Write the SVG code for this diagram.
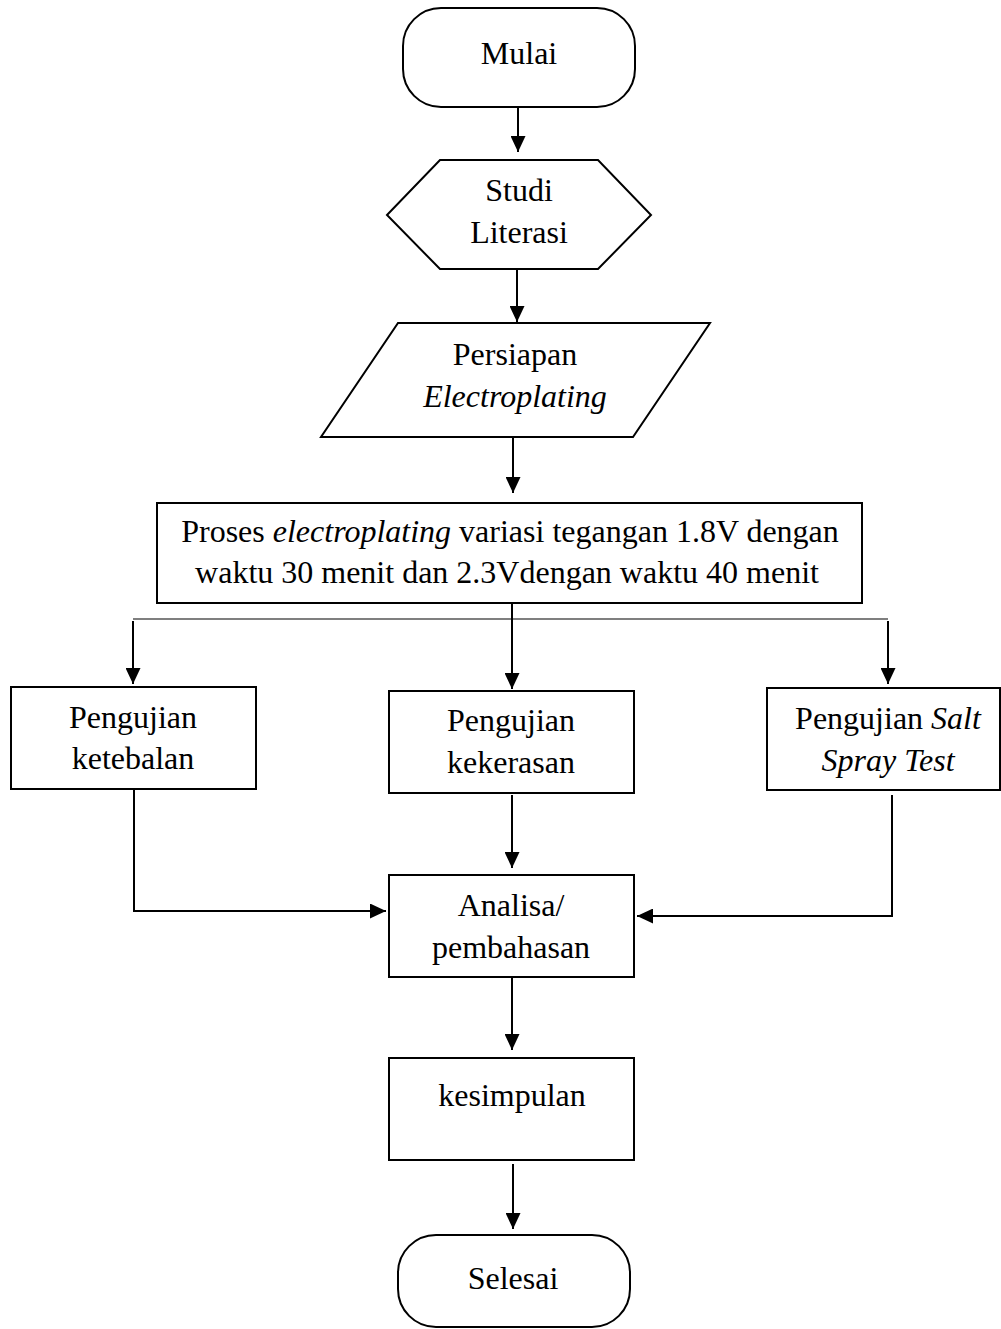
<svg xmlns="http://www.w3.org/2000/svg" width="1001" height="1329" viewBox="0 0 1001 1329">
<style>
.s{fill:#fff;stroke:#000;stroke-width:2}
.t{font-family:"Liberation Serif","Times New Roman",serif;font-size:32px;fill:#000;text-anchor:middle}
.i{font-style:italic}
.c{fill:none;stroke:#000;stroke-width:2}
.b{fill:none;stroke:#555;stroke-width:1.5}
</style>
<defs>
<marker id="ah" markerUnits="userSpaceOnUse" markerWidth="16" markerHeight="15" refX="16" refY="7.5" orient="auto">
<path d="M0,0 L16,7.5 L0,15 z" fill="#000"/>
</marker>
</defs>
<rect width="1001" height="1329" fill="#fff"/>
<g id="connectors">
<line class="c" x1="518" y1="107" x2="518" y2="152" marker-end="url(#ah)"/>
<line class="c" x1="517" y1="269" x2="517" y2="322" marker-end="url(#ah)"/>
<line class="c" x1="513" y1="437" x2="513" y2="493" marker-end="url(#ah)"/>
<line class="b" x1="133" y1="619" x2="888" y2="619"/>
<line class="c" x1="512" y1="604" x2="512" y2="689" marker-end="url(#ah)"/>
<line class="c" x1="133" y1="621" x2="133" y2="684" marker-end="url(#ah)"/>
<line class="c" x1="888" y1="621" x2="888" y2="684" marker-end="url(#ah)"/>
<polyline class="c" points="134,789 134,911 386,911" marker-end="url(#ah)"/>
<line class="c" x1="512" y1="795" x2="512" y2="868" marker-end="url(#ah)"/>
<polyline class="c" points="892,795 892,916 637,916" marker-end="url(#ah)"/>
<line class="c" x1="512" y1="977" x2="512" y2="1050" marker-end="url(#ah)"/>
<line class="c" x1="513" y1="1164" x2="513" y2="1229" marker-end="url(#ah)"/>
</g>
<g id="mulai">
<rect class="s" x="403" y="8" width="232" height="99" rx="38" ry="38"/>
<text class="t" x="519" y="64">Mulai</text>
</g>
<g id="studi-literasi">
<polygon class="s" points="387,215 440,160 598,160 651,215 598,269 440,269"/>
<text class="t" x="519" y="201">Studi</text>
<text class="t" x="519" y="243">Literasi</text>
</g>
<g id="persiapan">
<polygon class="s" points="398,323 710,323 633,437 321,437"/>
<text class="t" x="515" y="365">Persiapan</text>
<text class="t i" x="515" y="407">Electroplating</text>
</g>
<g id="proses">
<rect class="s" x="157" y="503" width="705" height="100"/>
<text class="t" x="510" y="542">Proses <tspan class="i">electroplating</tspan> variasi tegangan 1.8V dengan</text>
<text class="t" x="507" y="583">waktu 30 menit dan 2.3Vdengan waktu 40 menit</text>
</g>
<g id="ketebalan">
<rect class="s" x="11" y="687" width="245" height="102"/>
<text class="t" x="133" y="728">Pengujian</text>
<text class="t" x="133" y="769">ketebalan</text>
</g>
<g id="kekerasan">
<rect class="s" x="389" y="691" width="245" height="102"/>
<text class="t" x="511" y="731">Pengujian</text>
<text class="t" x="511" y="773">kekerasan</text>
</g>
<g id="salt-spray">
<rect class="s" x="767" y="688" width="233" height="102"/>
<text class="t" x="888" y="729">Pengujian <tspan class="i">Salt</tspan></text>
<text class="t i" x="888" y="771">Spray Test</text>
</g>
<g id="analisa">
<rect class="s" x="389" y="875" width="245" height="102"/>
<text class="t" x="511" y="916">Analisa/</text>
<text class="t" x="511" y="958">pembahasan</text>
</g>
<g id="kesimpulan">
<rect class="s" x="389" y="1058" width="245" height="102"/>
<text class="t" x="512" y="1106">kesimpulan</text>
</g>
<g id="selesai">
<rect class="s" x="398" y="1235" width="232" height="92" rx="38" ry="38"/>
<text class="t" x="513" y="1289">Selesai</text>
</g>
</svg>
